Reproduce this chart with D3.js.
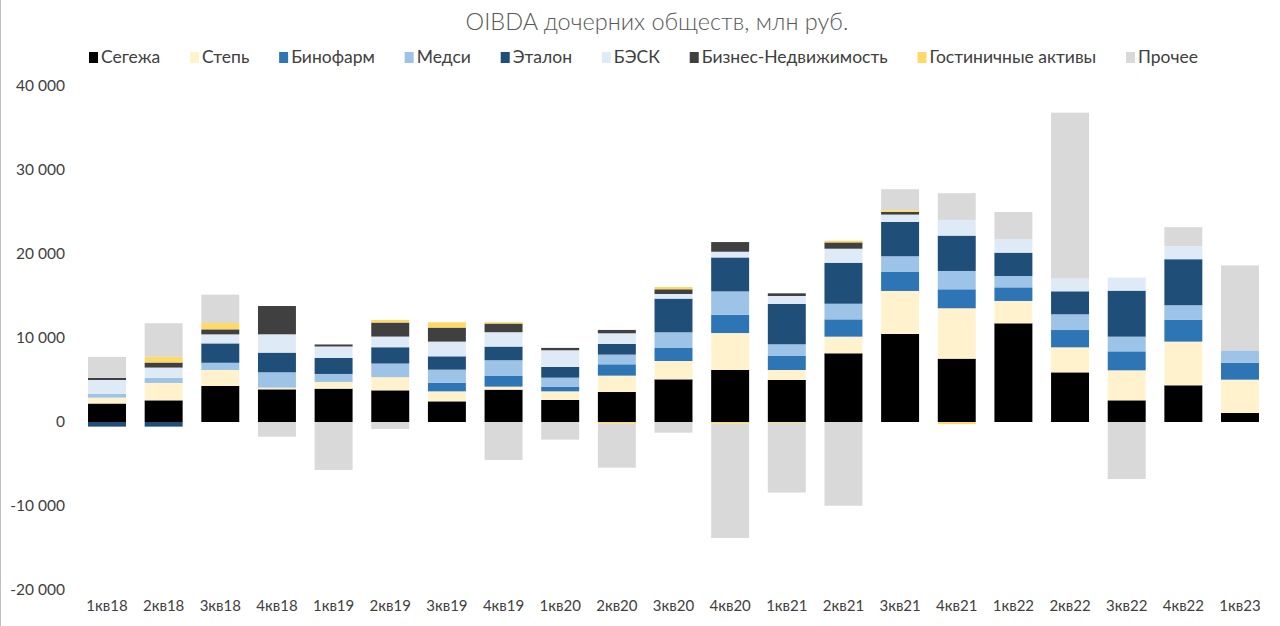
<!DOCTYPE html>
<html><head><meta charset="utf-8">
<script src="https://cdn.jsdelivr.net/npm/d3@7"></script>
<style>
body{margin:0;background:#fff;}
svg{display:block;font-family:Lato,"Open Sans",sans-serif;}
</style></head>
<body><svg id="c" width="1280" height="626"></svg>
<script>
const categories = ["1кв18","2кв18","3кв18","4кв18","1кв19","2кв19","3кв19","4кв19","1кв20","2кв20","3кв20","4кв20","1кв21","2кв21","3кв21","4кв21","1кв22","2кв22","3кв22","4кв22","1кв23"];
const seriesNames = ["Сегежа","Степь","Бинофарм","Медси","Эталон","БЭСК","Бизнес-Недвижимость","Гостиничные активы","Прочее"];
const segezha  = [2200,2580,4290,3890,3970,3770,2460,3850,2620,3570,5080,6190,5000,8180,10480,7540,11750,5910,2580,4370,1070];
const step     = [700,2070,1900,200,800,1570,1190,360,1030,1950,2180,4400,1190,1980,5120,6000,2660,2980,3570,5200,3970];
const binofarm = [0,0,0,0,0,0,1030,1270,560,1350,1550,2180,1670,2060,2260,2260,1620,2060,2260,2580,2020];
const medsi    = [450,600,860,1830,950,1620,1550,1870,1070,1150,1870,2780,1390,1860,1870,2180,1350,1870,1750,1750,1470];
const etalon   = [-550,-550,2310,2340,1900,1940,1590,1630,1270,1270,4010,4040,4800,4880,4090,4210,2780,2740,5480,5480,0];
const besk     = [1650,1230,1070,2180,1370,1270,1750,1710,1990,1270,550,680,950,1670,870,1870,1630,1510,1550,1550,0];
const biznes   = [250,600,600,3370,240,1670,1670,1030,280,400,560,1150,320,750,320,0,0,0,0,0,0];
const gost     = [0,680,750,0,0,310,640,160,0,-200,270,-200,-100,200,200,-250,0,0,0,0,0];
const prochee  = [2500,4000,3380,-1750,-5710,-830,0,-4520,-2100,-5240,-1270,-13600,-8300,-9960,2500,3180,3210,19760,-6790,2260,10120];
const yTicks = [-20000,-10000,0,10000,20000,30000,40000];
const colors = ["#000000","#fff2cc","#2e75b6","#9dc3e6","#1f4e79","#deebf7","#404040","#ffd966","#d9d9d9"];

const seriesValues = [segezha,step,binofarm,medsi,etalon,besk,biznes,gost,prochee];
const rows = categories.map((c,i)=>{const r={cat:c}; seriesNames.forEach((s,k)=>r[s]=seriesValues[k][i]); return r;});

const svg = d3.select("#c");
svg.append("line").attr("x1",0.5).attr("x2",0.5).attr("y1",0).attr("y2",626).attr("stroke","#bfbfbf");

const stepPx = (1240-107)/20;
const x = d3.scaleBand().domain(categories).range([107-stepPx/2, 1240+stepPx/2]).paddingInner(0.33).paddingOuter(0.165);
const y = d3.scaleLinear().domain([-20000,40000]).range([590,86]);

const stack = d3.stack().keys(seriesNames).offset(d3.stackOffsetDiverging);
const layers = stack(rows);

svg.append("g").selectAll("g").data(layers).join("g")
  .attr("fill",(d,i)=>colors[i])
  .selectAll("rect").data(d=>d).join("rect")
  .attr("x",d=>x(d.data.cat))
  .attr("width",x.bandwidth())
  .attr("y",d=>y(Math.max(d[0],d[1])))
  .attr("height",d=>Math.abs(y(d[0])-y(d[1])));

const fmt = v => { const s = d3.format(",")(Math.abs(v)).replace(/,/g," "); return (v<0?"-":"")+s; };
const yAxis = d3.axisLeft(y).tickValues(yTicks).tickFormat(fmt).tickSize(0).tickPadding(0);
const ga = svg.append("g").attr("transform","translate(65,0)").call(yAxis);
ga.select(".domain").remove();
ga.selectAll("text").attr("font-size",15.5).attr("fill","#404040").attr("font-family","Lato,'Open Sans',sans-serif");

const xAxis = d3.axisBottom(x).tickSize(0).tickPadding(0);
const gx = svg.append("g").attr("transform","translate(0,600)").call(xAxis);
gx.select(".domain").remove();
gx.selectAll("text").attr("font-size",15).attr("fill","#404040").attr("font-family","Lato,'Open Sans',sans-serif");

svg.append("text").attr("x",657).attr("y",30).attr("text-anchor","middle")
  .attr("font-size",23.5).attr("fill","#595959").attr("font-weight",300).text("OIBDA дочерних обществ, млн руб.");

// legend
const lg = svg.append("g");
const items = lg.selectAll("g").data(seriesNames).join("g");
items.append("rect").attr("width",9).attr("height",11).attr("y",-11).attr("fill",(d,i)=>colors[i]);
items.append("text").attr("x",12).attr("y",0).attr("font-size",17.5).attr("fill","#404040").text(d=>d);
const widths = [];
items.each(function(){ widths.push(12 + this.querySelector("text").getComputedTextLength()); });
const legLeft = 89, legRight = 1198;
const gap = (legRight - legLeft - d3.sum(widths)) / (widths.length - 1);
let cx = legLeft; const pos = [];
widths.forEach(w => { pos.push(cx); cx += w + gap; });
items.attr("transform",(d,i)=>`translate(${pos[i]},63)`);
</script></body></html>
